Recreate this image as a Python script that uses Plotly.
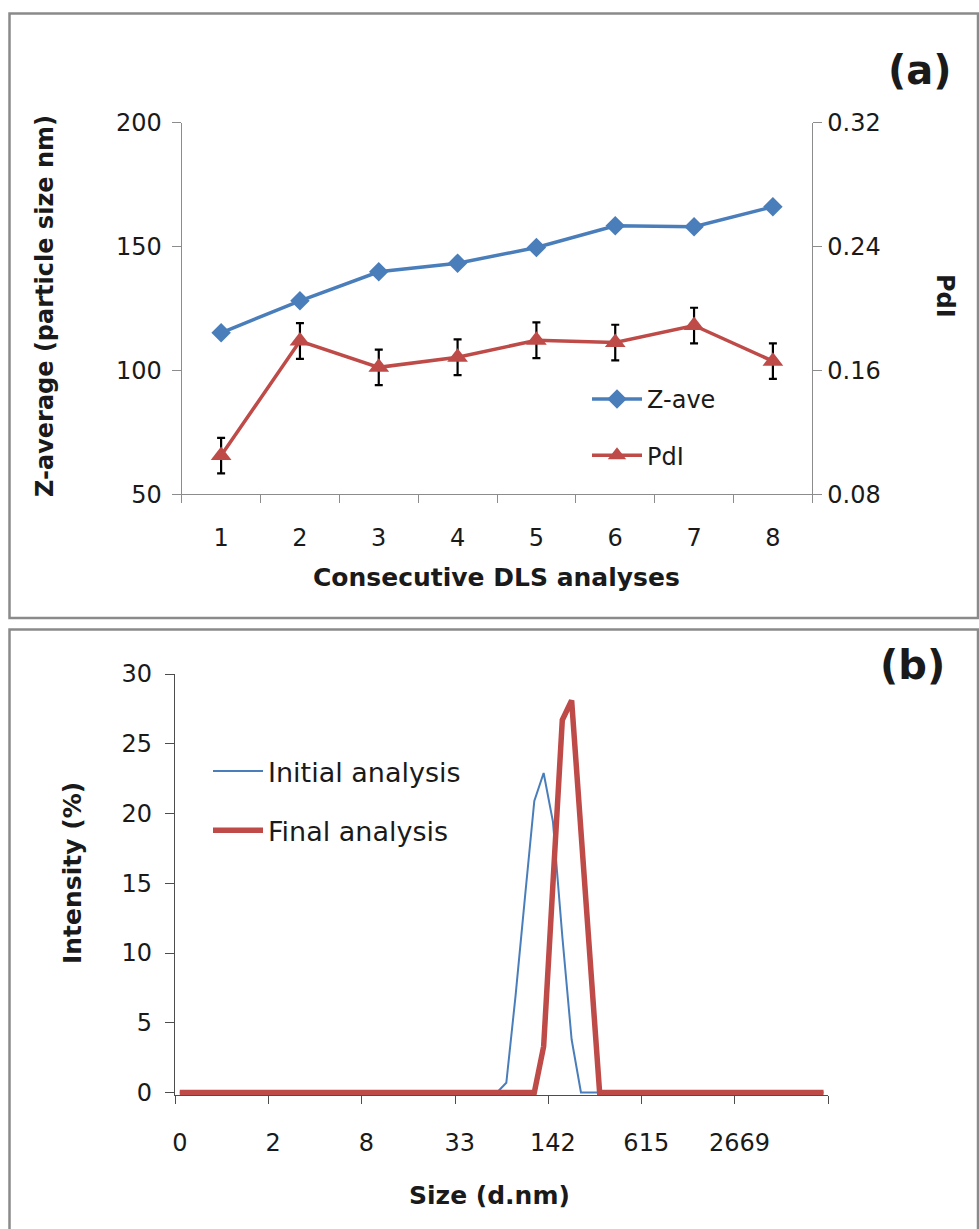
import plotly.graph_objects as go

# ---------------- Data ----------------
# Panel (a): consecutive DLS analyses
analyses = [1, 2, 3, 4, 5, 6, 7, 8]
z_ave = [115.2, 128.1, 139.8, 143.3, 149.6, 158.4, 158.0, 166.1]
pdi = [0.105, 0.179, 0.162, 0.1685, 0.1795, 0.178, 0.189, 0.166]
pdi_err = [0.0115, 0.0115, 0.0115, 0.0115, 0.0115, 0.0115, 0.0115, 0.0115]

# Panel (b): size distribution by intensity (70 size bins, category axis)
size_bin_index = list(range(70))
size_tick_index = [0, 10, 20, 30, 40, 50, 60]
size_tick_labels = ["0", "2", "8", "33", "142", "615", "2669"]
initial_intensity = [
    0, 0, 0, 0, 0, 0, 0, 0, 0, 0,
    0, 0, 0, 0, 0, 0, 0, 0, 0, 0,
    0, 0, 0, 0, 0, 0, 0, 0, 0, 0,
    0, 0, 0, 0, 0, 0.7, 7.0, 14.0, 20.9, 22.9,
    19.4, 11.2, 3.8, 0, 0, 0, 0, 0, 0, 0,
    0, 0, 0, 0, 0, 0, 0, 0, 0, 0,
    0, 0, 0, 0, 0, 0, 0, 0, 0, 0,
]
final_intensity = [
    0, 0, 0, 0, 0, 0, 0, 0, 0, 0,
    0, 0, 0, 0, 0, 0, 0, 0, 0, 0,
    0, 0, 0, 0, 0, 0, 0, 0, 0, 0,
    0, 0, 0, 0, 0, 0, 0, 0, 0, 3.3,
    15.0, 26.7, 28.1, 19.0, 9.5, 0, 0, 0, 0, 0,
    0, 0, 0, 0, 0, 0, 0, 0, 0, 0,
    0, 0, 0, 0, 0, 0, 0, 0, 0, 0,
]

# ---------------- Styling ----------------
W, H = 979, 1229
FONT = "DejaVu Sans"
BLUE = "#4A7EBB"
RED = "#BE4B48"
GRAY_AX = "#8C8C8C"
DARK_AX = "#4D4D4D"


def px(x):
    return x / W


def py(y):
    return 1 - y / H


fig = go.Figure()

# Panel (a)
fig.add_trace(go.Scatter(
    x=analyses, y=z_ave, name="Z-ave", mode="lines+markers",
    line=dict(color=BLUE, width=3.5),
    marker=dict(symbol="diamond", size=15, color=BLUE),
    xaxis="x", yaxis="y", legend="legend", legendgroup="a1",
))
fig.add_trace(go.Scatter(
    x=analyses, y=pdi, name="PdI", mode="lines+markers",
    line=dict(color=RED, width=3.5),
    marker=dict(symbol="triangle-up", size=18, color=RED),
    error_y=dict(type="data", array=pdi_err, visible=True, color="black",
                 thickness=2.2, width=4),
    xaxis="x", yaxis="y2", legend="legend", legendgroup="a2",
))

# Panel (b)
fig.add_trace(go.Scatter(
    x=size_bin_index, y=initial_intensity, name="Initial analysis", mode="lines",
    line=dict(color=BLUE, width=2),
    xaxis="x2", yaxis="y3", legend="legend2", legendgroup="b1",
))
fig.add_trace(go.Scatter(
    x=size_bin_index, y=final_intensity, name="Final analysis", mode="lines",
    line=dict(color=RED, width=5.5),
    xaxis="x2", yaxis="y3", legend="legend2", legendgroup="b2",
))

tickfont = dict(family=FONT, size=24, color="#1a1a1a")

# Domains (pixel-measured)
xa_dom = [px(181.7), px(812.3)]
ya_dom = [py(494.3), py(122.7)]
xb_dom = [px(175.1), px(828.2)]
yb_dom = [py(1095.3), py(674.0)]

fig.update_layout(
    width=W, height=H, autosize=False,
    margin=dict(l=0, r=0, t=0, b=0, pad=0, autoexpand=False),
    paper_bgcolor="white", plot_bgcolor="white",
    font=dict(family=FONT, color="#1a1a1a"),
    xaxis=dict(
        domain=xa_dom, anchor="y", range=[0.5, 8.5], automargin=False,
        tickmode="array", tickvals=analyses, ticktext=[str(a) for a in analyses],
        ticks="", ticklabelstandoff=22,
        minor=dict(tickmode="array", tickvals=[i + 0.5 for i in range(0, 9)],
                   ticks="outside", ticklen=8, tickcolor=GRAY_AX, tickwidth=1.3),
        showline=True, linecolor=GRAY_AX, linewidth=1.3,
        showgrid=False, zeroline=False, tickfont=tickfont,
    ),
    yaxis=dict(
        domain=ya_dom, anchor="x", range=[50, 200], tickvals=[50, 100, 150, 200],
        automargin=False,
        ticks="outside", ticklen=9, tickcolor=GRAY_AX, tickwidth=1.3,
        ticklabelstandoff=5,
        showline=True, linecolor=GRAY_AX, linewidth=1.3,
        showgrid=False, zeroline=False, tickfont=tickfont,
    ),
    yaxis2=dict(
        domain=ya_dom, anchor="x", overlaying="y", side="right", automargin=False,
        range=[0.08, 0.32], tickvals=[0.08, 0.16, 0.24, 0.32], tickformat=".2f",
        ticks="outside", ticklen=9, tickcolor=GRAY_AX, tickwidth=1.3,
        ticklabelstandoff=0,
        showline=True, linecolor=GRAY_AX, linewidth=1.3,
        showgrid=False, zeroline=False, tickfont=tickfont,
    ),
    xaxis2=dict(
        domain=xb_dom, anchor="y3", range=[-0.5, 69.5], automargin=False,
        tickmode="array", tickvals=size_tick_index, ticktext=size_tick_labels,
        ticks="", ticklabelstandoff=26,
        minor=dict(tickmode="array", tickvals=[i - 0.5 for i in range(0, 71, 10)],
                   ticks="outside", ticklen=8, tickcolor=DARK_AX, tickwidth=1.3),
        showline=True, linecolor=DARK_AX, linewidth=1.3, layer="below traces",
        showgrid=False, zeroline=False, tickfont=tickfont,
    ),
    yaxis3=dict(
        domain=yb_dom, anchor="x2", range=[-0.2, 30], tickvals=[0, 5, 10, 15, 20, 25, 30],
        automargin=False,
        ticks="outside", ticklen=9, tickcolor=DARK_AX, tickwidth=1.3,
        ticklabelstandoff=8,
        showline=True, linecolor=DARK_AX, linewidth=1.3, layer="below traces",
        showgrid=False, zeroline=False, tickfont=tickfont,
    ),
    legend=dict(
        x=px(587), y=py(377), xanchor="left", yanchor="top",
        bgcolor="rgba(0,0,0,0)", borderwidth=0, tracegroupgap=22,
        traceorder="grouped", itemwidth=50,
        font=dict(family=FONT, size=24, color="#1a1a1a"),
    ),
    legend2=dict(
        x=px(208), y=py(747), xanchor="left", yanchor="top",
        bgcolor="rgba(0,0,0,0)", borderwidth=0, tracegroupgap=21,
        traceorder="grouped", itemwidth=50,
        font=dict(family=FONT, size=27, color="#1a1a1a"),
    ),
    showlegend=True,
)

# Panel frames
frame = dict(type="rect", xref="paper", yref="paper",
             line=dict(color="#8A8A8A", width=2.5), fillcolor="rgba(0,0,0,0)", layer="below")
fig.add_shape(**frame, x0=px(9.5), x1=px(978), y0=py(618), y1=py(13.5))
fig.add_shape(**frame, x0=px(9.5), x1=px(978), y0=py(1240), y1=py(629.5))

# Titles and panel labels
bold = lambda s: dict(family=FONT, size=s, color="#1a1a1a", weight="bold")
ann = [
    dict(text="(a)", x=px(920), y=py(70), font=bold(40)),
    dict(text="(b)", x=px(912), y=py(665), font=bold(40)),
    dict(text="Z-average (particle size nm)", x=px(45), y=py(306), textangle=-90, font=bold(24)),
    dict(text="PdI", x=px(945), y=py(296), textangle=90, font=bold(24)),
    dict(text="Consecutive DLS analyses", x=px(497), y=py(578), font=bold(25)),
    dict(text="Intensity (%)", x=px(72), y=py(873), textangle=-90, font=bold(25)),
    dict(text="Size (d.nm)", x=px(490), y=py(1195), font=bold(25)),
]
for a in ann:
    fig.add_annotation(xref="paper", yref="paper", showarrow=False,
                       xanchor="center", yanchor="middle", **a)

fig.write_html(
    "out.html",
    config={"displayModeBar": False, "responsive": False},
    post_script="document.body.style.margin='0';document.body.style.overflow='hidden';",
)
